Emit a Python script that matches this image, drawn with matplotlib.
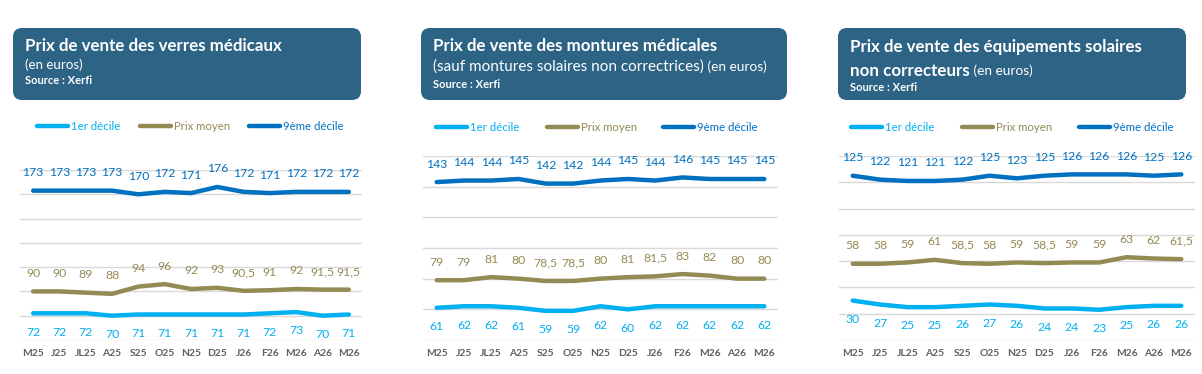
import matplotlib
matplotlib.use("Agg")
import matplotlib.pyplot as plt
from matplotlib.patches import FancyBboxPatch

plt.rcParams['font.family'] = ['Lato', 'DejaVu Sans']

# data
months = ["M25", "J25", "JL25", "A25", "S25", "O25", "N25", "D25", "J26", "F26", "M26", "A26", "M26"]

verres_d1 = [72, 72, 72, 70, 71, 71, 71, 71, 71, 72, 73, 70, 71]
verres_moy = [90, 90, 89, 88, 94, 96, 92, 93, 90.5, 91, 92, 91.5, 91.5]
verres_d9 = [173, 173, 173, 173, 170, 172, 171, 176, 172, 171, 172, 172, 172]

montures_d1 = [61, 62, 62, 61, 59, 59, 62, 60, 62, 62, 62, 62, 62]
montures_moy = [79, 79, 81, 80, 78.5, 78.5, 80, 81, 81.5, 83, 82, 80, 80]
montures_d9 = [143, 144, 144, 145, 142, 142, 144, 145, 144, 146, 145, 145, 145]

solaires_d1 = [30, 27, 25, 25, 26, 27, 26, 24, 24, 23, 25, 26, 26]
solaires_moy = [58, 58, 59, 61, 58.5, 58, 59, 58.5, 59, 59, 63, 62, 61.5]
solaires_d9 = [125, 122, 121, 121, 122, 125, 123, 125, 126, 126, 126, 125, 126]

series_names = ["1er décile", "Prix moyen", "9ème décile"]

C_D1 = "#00B0F0"
C_MOY = "#948A54"
C_D9 = "#0070C0"
BOX = "#2D6385"

W, H = 1202, 374
fig = plt.figure(figsize=(W / 100, H / 100), dpi=100)

# overlay in pixel coordinates for boxes / legends
ov = fig.add_axes([0, 0, 1, 1])
ov.set_xlim(0, W)
ov.set_ylim(H, 0)
ov.axis('off')


def fmt(v):
    if v == int(v):
        return str(int(v))
    return str(v).replace('.', ',')


def panel(px0, px1, ptop, ylim, d1, moy, d9):
    pbot = 340
    ax = fig.add_axes([px0 / W, (H - pbot) / H, (px1 - px0) / W, (pbot - ptop) / H])
    x = range(len(months))
    ax.plot(x, d9, color=C_D9, lw=3.2, solid_capstyle='round', solid_joinstyle='round', zorder=3)
    ax.plot(x, moy, color=C_MOY, lw=3.2, solid_capstyle='round', solid_joinstyle='round', zorder=3)
    ax.plot(x, d1, color=C_D1, lw=3.2, solid_capstyle='round', solid_joinstyle='round', zorder=3)
    for i in x:
        ax.annotate(fmt(d9[i]), (i, d9[i]), xytext=(0, 13), textcoords='offset points',
                    ha='center', va='center', fontsize=8.8, color=C_D9)
        ax.annotate(fmt(moy[i]), (i, moy[i]), xytext=(0, 13), textcoords='offset points',
                    ha='center', va='center', fontsize=8.8, color=C_MOY)
        ax.annotate(fmt(d1[i]), (i, d1[i]), xytext=(0, -13.5), textcoords='offset points',
                    ha='center', va='center', fontsize=8.8, color=C_D1)
    ax.set_xlim(-0.5, len(months) - 0.5)
    ax.set_ylim(*ylim)
    ax.set_yticks(range(ylim[0], ylim[1] + 1, 20))
    ax.set_yticklabels([])
    ax.set_xticks(list(x))
    ax.set_xticklabels(months, fontsize=7.4, color="#5F5F5F", fontweight='bold')
    ax.tick_params(length=0, pad=6.5)
    ax.grid(axis='y', color="#D9D9D9", lw=1)
    for s in ax.spines.values():
        s.set_visible(False)
    ax.set_facecolor('none')
    return ax


def titlebox(x0, x1, y0=28, y1=100):
    p = FancyBboxPatch((x0 + 9, y0 + 9), x1 - x0 - 18, y1 - y0 - 18,
                       boxstyle="round,pad=9", fc=BOX, ec='none')
    ov.add_patch(p)


def legend(xs, y=126):
    cols = [C_D1, C_MOY, C_D9]
    for xl, name, c in zip(xs, series_names, cols):
        ov.plot([xl, xl + 31], [y, y], color=c, lw=3.2, solid_capstyle='round')
        ov.text(xl + 34, y, name, color=c, fontsize=8.2, ha='left', va='center')


panel(20, 362, 170, (50, 190), verres_d1, verres_moy, verres_d9)
panel(423, 778, 156, (40, 160), montures_d1, montures_moy, montures_d9)
panel(839, 1195, 156, (0, 140), solaires_d1, solaires_moy, solaires_d9)

TS = 12.2
# panel 1 title
titlebox(13, 361)
ov.text(25, 46, "Prix de vente des verres médicaux", color='white', fontsize=TS,
        fontweight='bold', va='center')
ov.text(25, 65, "(en euros)", color='white', fontsize=9.6, va='center')
ov.text(25, 80, "Source : Xerfi", color='white', fontsize=8, fontweight='bold', va='center')

# panel 2 title
titlebox(421, 787)
ov.text(433, 46, "Prix de vente des montures médicales", color='white', fontsize=TS,
        fontweight='bold', va='center')
t = ov.text(433, 67, "(sauf montures solaires non correctrices)", color='white', fontsize=11,
            va='center')
ov.annotate(" (en euros)", xycoords=t, xy=(1, 0.5), va='center', ha='left',
            color='white', fontsize=9.8)
ov.text(433, 84, "Source : Xerfi", color='white', fontsize=8, fontweight='bold', va='center')

# panel 3 title
titlebox(838, 1186)
ov.text(850, 47, "Prix de vente des équipements solaires", color='white', fontsize=TS,
        fontweight='bold', va='center')
t = ov.text(850, 71, "non correcteurs", color='white', fontsize=TS, fontweight='bold',
            va='center')
ov.annotate(" (en euros)", xycoords=t, xy=(1, 0.5), va='center', ha='left',
            color='white', fontsize=9.8)
ov.text(850, 87, "Source : Xerfi", color='white', fontsize=8, fontweight='bold', va='center')

legend([37, 140, 249])
legend([436, 547, 663], y=127)
legend([851, 962, 1079], y=127)

fig.savefig("out.png", dpi=100, facecolor='white')
